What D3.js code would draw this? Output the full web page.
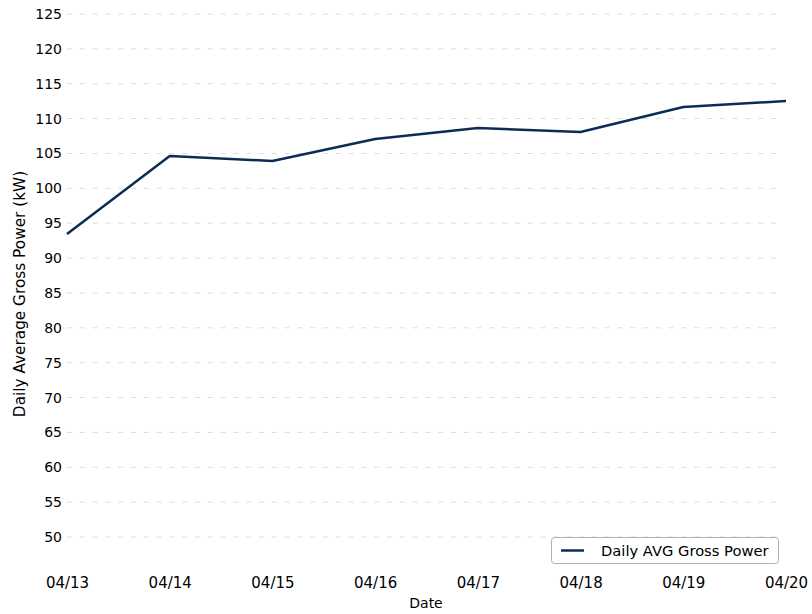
<!DOCTYPE html>
<html>
<head>
<meta charset="utf-8">
<script src="https://cdn.jsdelivr.net/npm/d3@7"></script>
<style>
  body { margin: 0; background: #fff; }
  svg { display: block; font-family: "DejaVu Sans", sans-serif; }
</style>
</head>
<body>
<svg id="chart" width="812" height="614"></svg>
<script>
const dates = ["04/13", "04/14", "04/15", "04/16", "04/17", "04/18", "04/19", "04/20"];
const grossPower = [93.45, 104.64, 103.92, 107.07, 108.65, 108.08, 111.66, 112.52];
const yTicks = [50, 55, 60, 65, 70, 75, 80, 85, 90, 95, 100, 105, 110, 115, 120, 125];
const seriesName = "Daily AVG Gross Power";

const svg = d3.select("#chart");
const x = d3.scalePoint().domain(dates).range([67, 786]);
const y = d3.scaleLinear().domain([50, 125]).range([537, 14]);

// gridlines
svg.append("g").selectAll("line").data(yTicks).join("line")
  .attr("x1", 67).attr("x2", 783)
  .attr("y1", d => y(d)).attr("y2", d => y(d))
  .attr("stroke", "#dcdcdc").attr("stroke-width", 1)
  .attr("stroke-dasharray", "5,7.8");

// y axis
const yAxis = svg.append("g").attr("transform", "translate(67,0)")
  .call(d3.axisLeft(y).tickValues(yTicks).tickSize(0).tickPadding(5));
yAxis.select(".domain").remove();
yAxis.selectAll("text").attr("font-size", 14).attr("fill", "#000")
  .attr("font-family", "DejaVu Sans, sans-serif");

// x axis
const xAxis = svg.append("g").attr("transform", "translate(0,577)")
  .call(d3.axisBottom(x).tickSize(0).tickPadding(0));
xAxis.select(".domain").remove();
xAxis.selectAll("text").attr("font-size", 15).attr("fill", "#000")
  .attr("font-family", "DejaVu Sans, sans-serif");

// axis titles
svg.append("text").attr("x", 426).attr("y", 608).attr("text-anchor", "middle")
  .attr("font-size", 14).text("Date");
svg.append("text").attr("transform", "translate(25,294) rotate(-90)")
  .attr("text-anchor", "middle").attr("font-size", 15.3)
  .text("Daily Average Gross Power (kW)");

// line
const line = d3.line().x((d, i) => x(dates[i])).y(d => y(d));
svg.append("path").datum(grossPower).attr("d", line)
  .attr("fill", "none").attr("stroke", "#0b2d55").attr("stroke-width", 2.5)
  .attr("stroke-linejoin", "round");

// legend
const lg = svg.append("g");
lg.append("rect").attr("x", 551.5).attr("y", 537.5).attr("width", 227).attr("height", 26)
  .attr("rx", 3).attr("fill", "#fff").attr("stroke", "#b0b0b0");
lg.append("line").attr("x1", 561).attr("x2", 584).attr("y1", 550.5).attr("y2", 550.5)
  .attr("stroke", "#0b2d55").attr("stroke-width", 2.5);
lg.append("text").attr("x", 601).attr("y", 556).attr("font-size", 14.7).text(seriesName);
</script>
</body>
</html>
